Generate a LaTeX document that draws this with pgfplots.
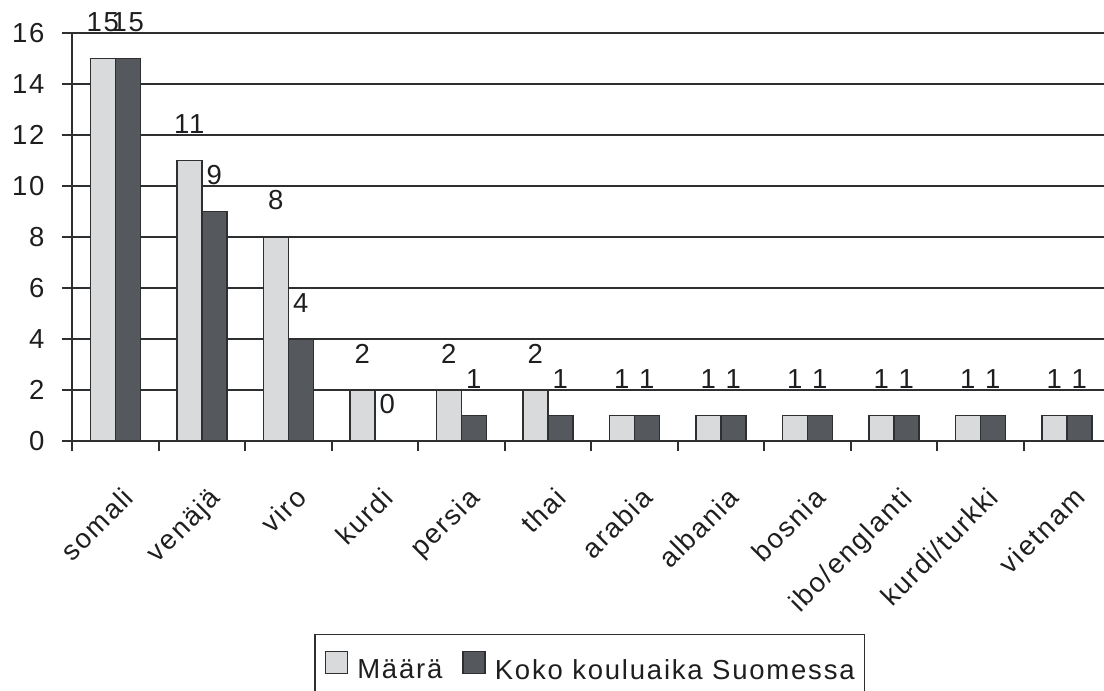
\documentclass[border=0pt]{standalone}
\usepackage{fontspec}
\setmainfont{Liberation Sans}[LetterSpace=6.5]
\usepackage{pgfplots}
\pgfplotsset{compat=1.18}

\definecolor{barlight}{HTML}{D9DADB}
\definecolor{bardark}{HTML}{55585C}
\definecolor{edge}{HTML}{2E2F31}
\definecolor{ink}{HTML}{1E1E20}

\begin{document}
\fontsize{13.75pt}{16.5pt}\selectfont
\begin{tikzpicture}
\clip (-36pt,-125pt) rectangle (516pt,220.5pt);
\begin{axis}[
    at={(0,0)}, anchor=south west,
    scale only axis,
    width=516pt, height=204pt,
    xmin=-0.5, xmax=11.43,
    ymin=0, ymax=16,
    ybar=0pt, bar width=12.5pt,
    clip=false,
    axis lines=left,
    axis line style={-, draw=edge, line width=1pt},
    xtick={-0.5,0.5,...,10.5},
    xticklabels={somali,venäjä,viro,kurdi,persia,thai,arabia,albania,bosnia,ibo/englanti,kurdi/turkki,vietnam},
    ytick={0,2,...,16},
    tick align=outside,
    major tick length=5pt,
    tick style={draw=edge, line width=1pt},
    ymajorgrids=true,
    grid style={draw=edge, line width=1pt},
    /pgf/number format/assume math mode=true,
    tick label style={text=ink},
    xticklabel style={inner sep=0pt, xshift=24.5pt, yshift=-17pt, rotate=45, anchor=north east},
    yticklabel style={xshift=-4pt},
    nodes near coords,
    every node near coord/.append style={text=ink, inner sep=0pt, anchor=south, yshift=13pt},
    legend columns=2,
    legend style={at={(0.2345,-0.473)}, anchor=north west, draw=edge, line width=0.75pt,
        text=ink, inner xsep=5pt, inner ysep=8pt,
        nodes={inner xsep=0pt},
        /tikz/every odd column/.append style={column sep=4.5pt},
        /tikz/every even column/.append style={column sep=10pt}},
    legend image code/.code={\draw[#1, line width=0.75pt] (0pt,-1pt) rectangle (11pt,10pt);},
]
\addplot[fill=barlight, draw=edge, line width=0.75pt] coordinates {
    (0,15) (1,11) (2,8) (3,2) (4,2) (5,2) (6,1) (7,1) (8,1) (9,1) (10,1) (11,1)};
\addplot[fill=bardark, draw=edge, line width=0.75pt] coordinates {
    (0,15) (1,9) (2,4) (3,0) (4,1) (5,1) (6,1) (7,1) (8,1) (9,1) (10,1) (11,1)};
\legend{Määrä, Koko kouluaika Suomessa}
\end{axis}
\end{tikzpicture}
\end{document}
